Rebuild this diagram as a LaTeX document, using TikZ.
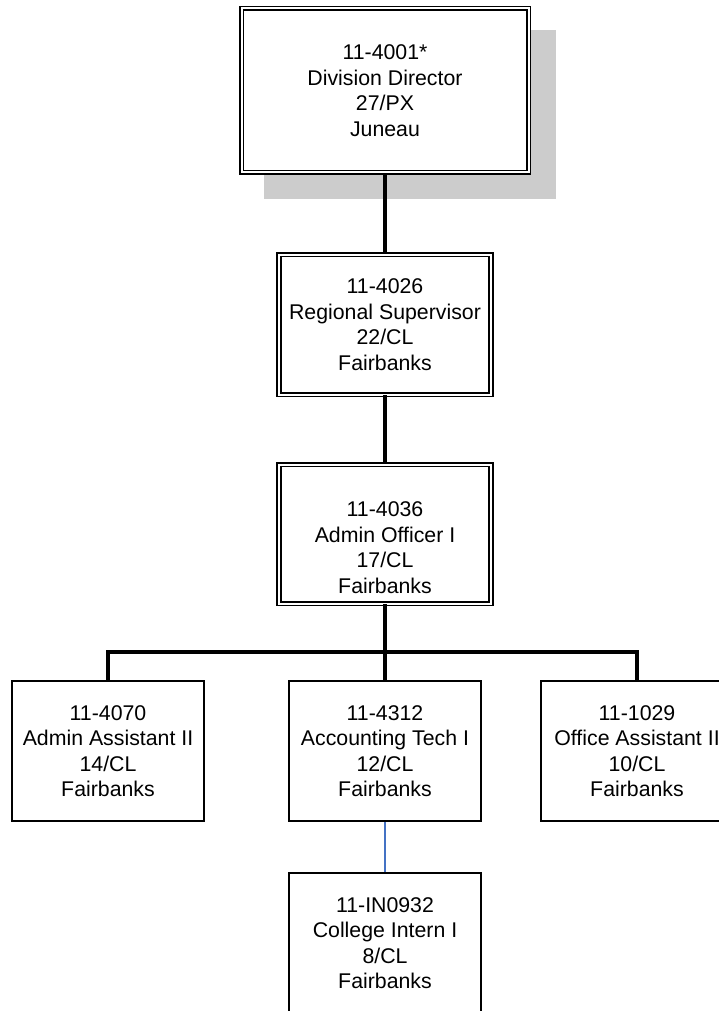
\documentclass[tikz,border=0pt]{standalone}
\usepackage{fontspec}
\setmainfont{Liberation Sans}
\usetikzlibrary{positioning, shadows, calc}
\definecolor{linkblue}{RGB}{68,114,196}
\tikzset{
  postext/.style={align=center, font=\fontsize{21.3}{25.5}\selectfont},
  posbox/.style={postext, draw, line width=2pt, fill=white, minimum width=192pt, minimum height=140pt},
  dblbox/.style={posbox, line width=1.6pt, double=white, double distance=2pt},
  link/.style={line width=3.1pt},
  internlink/.style={line width=1.6pt, draw=linkblue}
}
\begin{document}
\begin{tikzpicture}[x=1pt, y=-1pt]
\useasboundingbox (0,0) rectangle (719,1011);
\clip (0,0) rectangle (719,1011);

%//top of the chart
\node [dblbox, minimum width=287pt, minimum height=164pt,
  drop shadow={shadow xshift=25pt, shadow yshift=-24pt, fill=black!20, draw=black!20, line width=5pt, opacity=1}]
  (director) at (385, 90.5) {11-4001*\\Division Director\\27/PX\\Juneau};

\node [dblbox, minimum width=212pt, minimum height=140pt] (regsup) at (385, 324.5) {11-4026\\Regional Supervisor\\22/CL\\Fairbanks};

\node [dblbox, minimum width=212pt, minimum height=139pt] (adminoff) at (385, 534) {};
\node [postext] (adminofftext) at ([yshift=-13.5pt]adminoff.center) {11-4036\\Admin Officer I\\17/CL\\Fairbanks};

%//third row
\foreach \nm/\x/\txt in {adminasst/108/{11-4070\\Admin Assistant II\\14/CL\\Fairbanks},
  accttech/385/{11-4312\\Accounting Tech I\\12/CL\\Fairbanks},
  officeasst/637/{11-1029\\Office Assistant II\\10/CL\\Fairbanks}}
\node [posbox] (\nm) at (\x, 751) {\txt};

\node [posbox] (intern) at (385, 943) {11-IN0932\\College Intern I\\8/CL\\Fairbanks};

%//connectors
\draw [link] (director) -- (regsup);
\draw [link] (regsup) -- (adminoff);
\coordinate (bus) at (385, 652);
\draw [link] (adminoff) -- (bus);
\draw [link] (adminasst.north) |- (bus) -| (officeasst.north);
\draw [link] (bus) -- (accttech);
\draw [internlink] (accttech) -- (intern);
\end{tikzpicture}
\end{document}
